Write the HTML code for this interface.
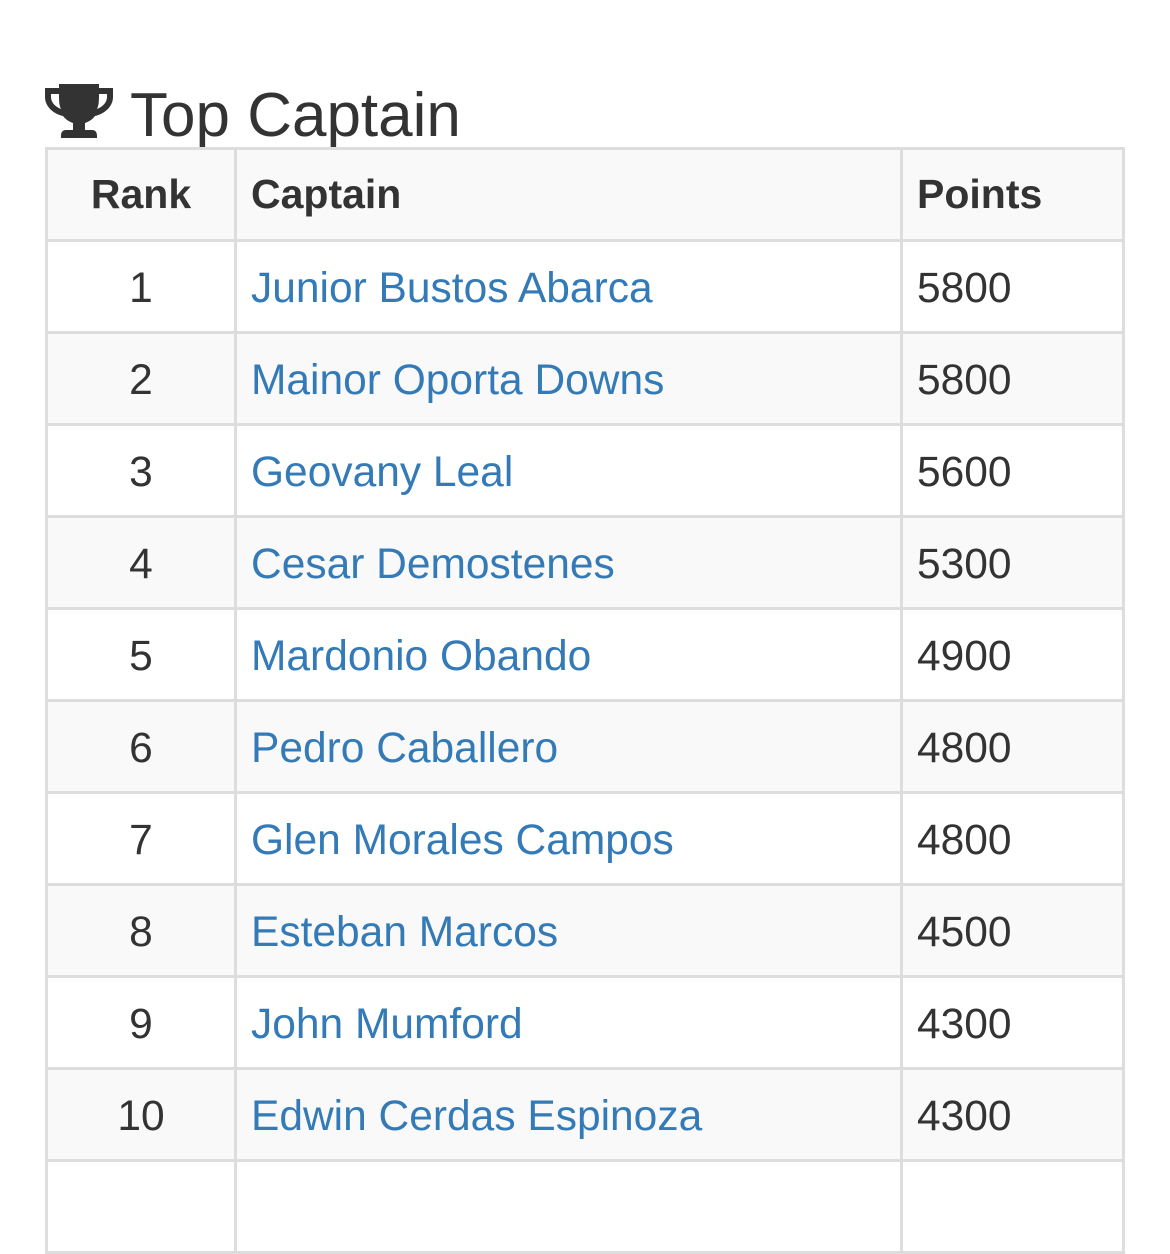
<!DOCTYPE html>
<html><head><style>
body{margin:0;width:1170px;height:1167px;background:#fff;position:relative;overflow:hidden;font-family:"Liberation Sans",sans-serif;color:#333}
.t{position:absolute;left:130px;top:78px;font-size:62px;line-height:76px}
table{position:absolute;left:45px;top:147px;border-collapse:collapse;width:1080px}
td,th{border:3px solid #ddd;height:92px;padding:4px 14px 0;font-size:42.5px;text-align:left;box-sizing:border-box}
th{font-weight:bold;font-size:41px;padding-top:0}
tr:nth-child(odd){background:#f9f9f9}
.r{text-align:center;width:189px}
.c{width:666px;color:#337ab7}
</style></head><body>
<svg style="position:absolute;left:45px;top:84px" width="68" height="60" viewBox="0 0 68 60">
<path fill="#333" d="M14 0h40v4h14v9c0 10-9 17-18 19-3 4-7 6-10 7v7h7c4 0 5 3 5 6v2H16v-2c0-3 1-6 5-6h7v-7c-3-1-7-3-10-7C9 30 0 23 0 13V4h14zM6 10v3c0 6 5 10 10 12-2-4-2-9-2-15zM62 10h-8c0 6 0 11-2 15 5-2 10-6 10-12z"/>
</svg>
<div class="t">Top Captain</div>
<table>
<tr><th class="r">Rank</th><th style="width:666px">Captain</th><th>Points</th></tr>
<tr><td class="r">1</td><td class="c">Junior Bustos Abarca</td><td>5800</td></tr>
<tr><td class="r">2</td><td class="c">Mainor Oporta Downs</td><td>5800</td></tr>
<tr><td class="r">3</td><td class="c">Geovany Leal</td><td>5600</td></tr>
<tr><td class="r">4</td><td class="c">Cesar Demostenes</td><td>5300</td></tr>
<tr><td class="r">5</td><td class="c">Mardonio Obando</td><td>4900</td></tr>
<tr><td class="r">6</td><td class="c">Pedro Caballero</td><td>4800</td></tr>
<tr><td class="r">7</td><td class="c">Glen Morales Campos</td><td>4800</td></tr>
<tr><td class="r">8</td><td class="c">Esteban Marcos</td><td>4500</td></tr>
<tr><td class="r">9</td><td class="c">John Mumford</td><td>4300</td></tr>
<tr><td class="r">10</td><td class="c">Edwin Cerdas Espinoza</td><td>4300</td></tr>
<tr><td class="r">&nbsp;</td><td class="c"></td><td></td></tr>
</table>
</body></html>
